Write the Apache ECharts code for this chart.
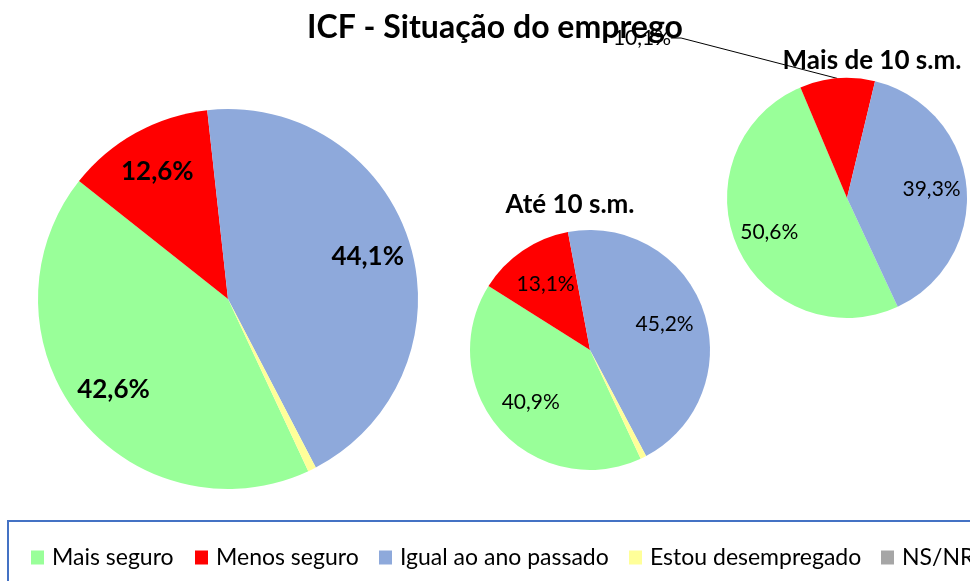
<!DOCTYPE html>
<html>
<head>
<meta charset="utf-8">
<title>ICF - Situação do emprego</title>
<script src="https://cdn.jsdelivr.net/npm/echarts@6/dist/echarts.min.js"></script>
<style>
    html, body { margin: 0; padding: 0; background: #fff; }
    #chart { width: 970px; height: 581px; }
</style>
</head>
<body>
<div id="chart"></div>
<script>
// categorias e valores (%)
const categories = ['Mais seguro', 'Menos seguro', 'Igual ao ano passado', 'Estou desempregado', 'NS/NR']
const totalValues = [42.6, 12.6, 44.1, 0.7, 0.0]
const ate10Values = [40.9, 13.1, 45.2, 0.8, 0.0]
const mais10Values = [50.6, 10.1, 39.3, 0.0, 0.0]
const colors = ['#99FF99', '#FF0000', '#8EA9DB', '#FFFF99', '#A6A6A6']

const fontFamily = 'Lato, "Open Sans", sans-serif'
const START = -65   // primeira fatia começa a ~155° (sentido horário a partir do topo)

function fmt(v) {
    return v < 1 ? '' : v.toFixed(1).replace('.', ',') + '%'
}

function pieData(values) {
    return values.map((v, i) => ({ name: categories[i], value: v, itemStyle: { color: colors[i] } }))
}

// série transparente só para posicionar os rótulos mais perto da borda
function labelRing(values, center, radius, r0, labelStyle, extra) {
    return Object.assign({
        type: 'pie',
        center,
        radius: [r0, radius],
        startAngle: START,
        clockwise: true,
        silent: true,
        avoidLabelOverlap: false,
        itemStyle: { color: 'transparent', borderWidth: 0 },
        label: Object.assign({ show: true, position: 'inside', color: '#000', formatter: p => fmt(p.value) }, labelStyle),
        labelLine: { show: false },
        emphasis: { disabled: true },
        data: values.map((v, i) => ({ name: categories[i], value: v }))
    }, extra || {})
}

function pie(values, center, radius) {
    return {
        type: 'pie',
        center,
        radius,
        startAngle: START,
        clockwise: true,
        avoidLabelOverlap: false,
        label: { show: false },
        labelLine: { show: false },
        emphasis: { disabled: true },
        itemStyle: { borderWidth: 0 },
        data: pieData(values)
    }
}

const bigLabel = { fontFamily, fontSize: 26, fontWeight: 'bold' }
const smallLabel = { fontFamily, fontSize: 21 }

const ring3 = labelRing(mais10Values, [847, 198], 120, 44, smallLabel, {
    labelLayout: p => p.dataIndex === 1 ? { x: 642, y: 38, align: 'center', verticalAlign: 'middle' } : {}
})
ring3.data[1].label = { position: 'outside' }
ring3.data[1].labelLine = { show: true, length: 10, length2: 10, lineStyle: { color: '#000', width: 1 } }

const legendLeft = [31, 195, 379, 629, 881]

const myChart = echarts.init(document.getElementById('chart'))
myChart.setOption({
    animation: false,
    title: [
        {
            text: 'ICF - Situação do emprego',
            left: 495, top: 12, padding: 0, textAlign: 'center',
            textStyle: { fontFamily, fontSize: 32, fontWeight: 'bold', color: '#000' }
        },
        {
            text: 'Até 10 s.m.',
            left: 570, top: 192, padding: 0, textAlign: 'center',
            textStyle: { fontFamily, fontSize: 26, fontWeight: 'bold', color: '#000' }
        },
        {
            text: 'Mais de 10 s.m.',
            left: 872, top: 48, padding: 0, textAlign: 'center',
            textStyle: { fontFamily, fontSize: 26, fontWeight: 'bold', color: '#000' }
        }
    ],
    legend: categories.map((c, i) => ({
        data: [{ name: c, itemStyle: { color: colors[i] } }],
        left: legendLeft[i],
        top: 546,
        padding: 0,
        icon: 'rect',
        itemWidth: 13,
        itemHeight: 14,
        selectedMode: false,
        textStyle: { fontFamily, fontSize: 23, color: '#000', padding: [0, 0, 0, 3] }
    })),
    graphic: [{
        type: 'rect',
        shape: { x: 8, y: 521, width: 990, height: 90 },
        style: { fill: 'none', stroke: '#4472C4', lineWidth: 2 },
        silent: true
    }],
    series: [
        pie(totalValues, [228, 299], 190),
        pie(ate10Values, [590, 350], 120),
        pie(mais10Values, [847, 198], 120),
        labelRing(totalValues, [228, 299], 190, 96, bigLabel),
        labelRing(ate10Values, [590, 350], 120, 32, smallLabel),
        ring3
    ]
})

window.addEventListener('resize', () => {
    myChart && myChart.resize()
})
</script>
</body>
</html>
